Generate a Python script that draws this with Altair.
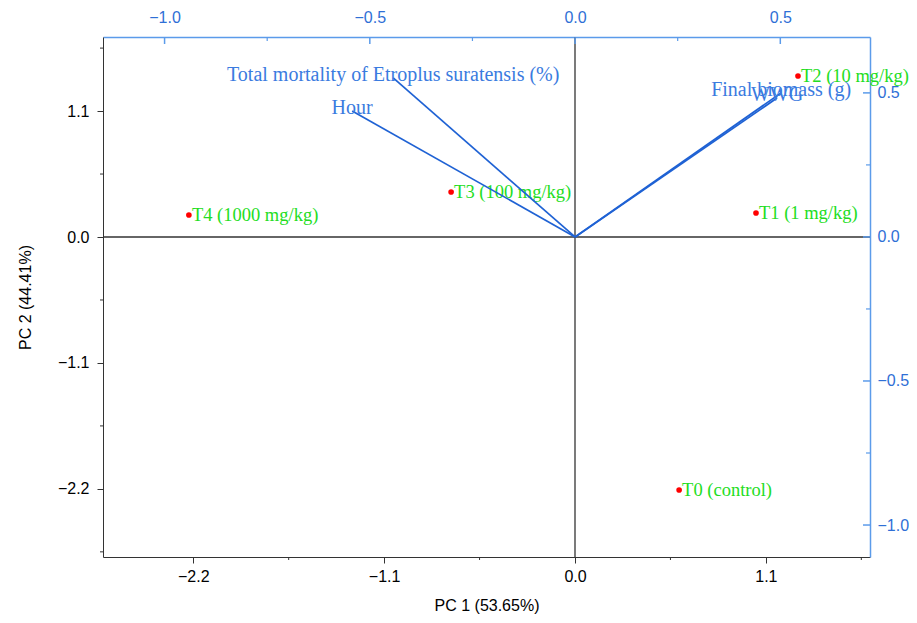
import altair as alt
import pandas as pd

# ---------------- data ----------------
score_names = ["T0 (control)", "T1 (1 mg/kg)", "T2 (10 mg/kg)", "T3 (100 mg/kg)", "T4 (1000 mg/kg)"]
pc1 = [0.600, 1.043, 1.285, -0.714, -2.225]
pc2 = [-2.21, 0.21, 1.406, 0.393, 0.192]

load_names = ["Total mortality of Etroplus suratensis (%)", "Hour", "Final biomass (g)", "WWG"]
load1 = [-0.443, -0.543, 0.502, 0.492]
load2 = [0.552, 0.4375, 0.500, 0.482]

primary_ticks = [-2.2, -1.1, 0.0, 1.1]
primary_minor_x = [-1.65, -0.55, 0.55, 1.65]
primary_minor_y = [-2.75, -1.65, -0.55, 0.55, 1.65]
secondary_ticks = [-1.0, -0.5, 0.0, 0.5]
secondary_minor_x = [-0.75, -0.25, 0.25]
secondary_minor_y = [-0.75, -0.25, 0.25]

X_DOM = [-2.72, 1.70]
Y_DOM = [-2.795, 1.747]
X2_DOM = [-1.150, 0.7185]
Y2_DOM = [-1.111, 0.694]

W, H = 767, 520

BLUE_AX = "#5b9bea"
BLUE_LBL = "#2f6fd6"
BLUE_TXT = "#3a7be0"
BLUE_VEC = "#1f62d4"
GREEN = "#22dd22"
RED = "#ff0000"
DARK = "#333333"

scores = pd.DataFrame({"name": score_names, "pc1": pc1, "pc2": pc2})
loads = pd.DataFrame({"name": load_names, "l1": load1, "l2": load2,
                      "x0": [0.0] * len(load1), "y0": [0.0] * len(load1)})

AX_COMMON = dict(grid=False, labelFont="Liberation Sans", labelFontSize=16,
                 titleFont="Liberation Sans", titleFontSize=16, titleFontWeight="normal",
                 format=".1f")

x_axis = alt.Axis(values=primary_ticks, title="PC 1 (53.65%)", orient="bottom",
                  labelColor="black", domainColor=DARK, tickColor=DARK, tickSize=6,
                  labelPadding=5, titlePadding=13, titleColor="black", **AX_COMMON)
y_axis = alt.Axis(values=primary_ticks, title="PC 2 (44.41%)", orient="left",
                  labelColor="black", domainColor=DARK, tickColor=DARK, tickSize=6,
                  labelPadding=8, titlePadding=24, titleColor="black", **AX_COMMON)
x2_axis = alt.Axis(values=secondary_ticks, title="", orient="top", ticks=False,
                   labelColor=BLUE_LBL, domainColor=BLUE_AX, domainWidth=1.5,
                   labelPadding=12, **AX_COMMON)
y2_axis = alt.Axis(values=secondary_ticks, title="", orient="right", ticks=False,
                   labelColor=BLUE_LBL, domainColor=BLUE_AX, domainWidth=1.5,
                   labelPadding=7, **AX_COMMON)


def PX(field):
    return alt.X(field, type="quantitative", scale=alt.Scale(domain=X_DOM, nice=False, zero=False), axis=x_axis)


def PY(field):
    return alt.Y(field, type="quantitative", scale=alt.Scale(domain=Y_DOM, nice=False, zero=False), axis=y_axis)


def SX(field):
    return alt.X(field, type="quantitative", scale=alt.Scale(domain=X2_DOM, nice=False, zero=False), axis=x2_axis)


def SY(field):
    return alt.Y(field, type="quantitative", scale=alt.Scale(domain=Y2_DOM, nice=False, zero=False), axis=y2_axis)


zero_df = pd.DataFrame({"z": [0.0]})

# ---------------- primary layer (scores) ----------------
zero_v = alt.Chart(zero_df).mark_rule(color=DARK, strokeWidth=1.3).encode(x=PX("z"))
zero_h = alt.Chart(zero_df).mark_rule(color=DARK, strokeWidth=1.3).encode(y=PY("z"))

minor_bottom = alt.Chart(pd.DataFrame({"t": primary_minor_x})).mark_rule(color=DARK).encode(
    x=PX("t"), y=alt.value(H), y2=alt.value(H + 3))
minor_left = alt.Chart(pd.DataFrame({"t": primary_minor_y})).mark_rule(color=DARK).encode(
    y=PY("t"), x=alt.value(-3), x2=alt.value(0))

points = alt.Chart(scores).mark_circle(size=32, color=RED, opacity=1).encode(
    x=PX("pc1"), y=PY("pc2"))
score_text = alt.Chart(scores).mark_text(
    align="left", baseline="middle", dx=3, font="Liberation Serif", fontSize=18.5, color=GREEN
).encode(x=PX("pc1"), y=PY("pc2"), text="name:N")

primary = alt.layer(zero_v, zero_h, minor_bottom, minor_left, points, score_text)

# ---------------- secondary layer (loadings) ----------------
top_major = alt.Chart(pd.DataFrame({"t": secondary_ticks})).mark_rule(color=BLUE_AX, strokeWidth=1.5).encode(
    x=SX("t"), y=alt.value(0), y2=alt.value(7))
top_minor = alt.Chart(pd.DataFrame({"t": secondary_minor_x})).mark_rule(color=BLUE_AX, strokeWidth=1.2).encode(
    x=SX("t"), y=alt.value(0), y2=alt.value(4))
right_major = alt.Chart(pd.DataFrame({"t": secondary_ticks})).mark_rule(color=BLUE_AX, strokeWidth=1.5).encode(
    y=SY("t"), x=alt.value(W - 7), x2=alt.value(W))
right_minor = alt.Chart(pd.DataFrame({"t": secondary_minor_y})).mark_rule(color=BLUE_AX, strokeWidth=1.2).encode(
    y=SY("t"), x=alt.value(W - 4), x2=alt.value(W))

vectors = alt.Chart(loads).mark_rule(color=BLUE_VEC, strokeWidth=1.7).encode(
    x=SX("x0"), y=SY("y0"), x2="l1:Q", y2="l2:Q")
load_text = alt.Chart(loads).mark_text(
    align="center", baseline="middle", dy=-3, font="Liberation Serif", fontSize=20, color=BLUE_TXT
).encode(x=SX("l1"), y=SY("l2"), text="name:N")

secondary = alt.layer(top_major, top_minor, right_major, right_minor, vectors, load_text)

chart = alt.layer(primary, secondary).resolve_scale(
    x="independent", y="independent"
).properties(
    width=W, height=H,
    padding={"left": 95, "top": 29, "right": 39, "bottom": 58},
    autosize=alt.AutoSizeParams(type="none"),
).configure_view(strokeWidth=0)

chart.save("out.html", embed_options={"renderer": "svg", "actions": False})
